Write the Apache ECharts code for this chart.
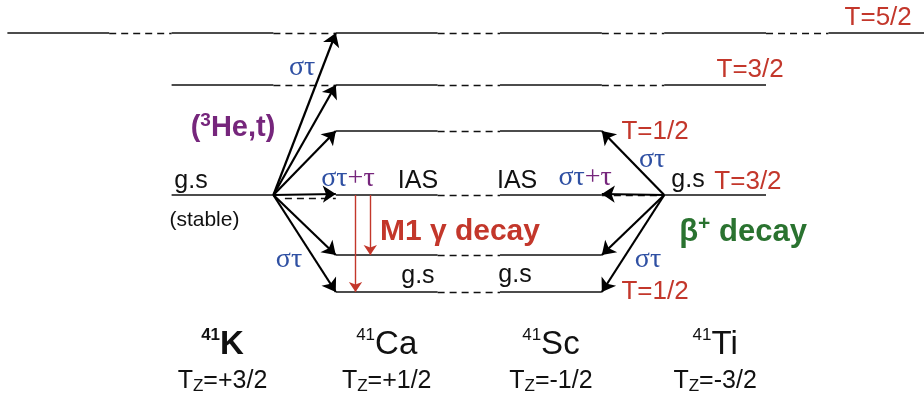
<!DOCTYPE html>
<html><head><meta charset="utf-8">
<script src="https://cdn.jsdelivr.net/npm/echarts@6/dist/echarts.min.js"></script>
<style>html,body{margin:0;padding:0;background:#fff}#c{width:924px;height:400px}</style>
</head><body><div id="c"></div>
<script>
// ---- data ----
const massNumber = '41';
const elements = ['K', 'Ca', 'Sc', 'Ti'];
const tzValues = ['+3/2', '+1/2', '-1/2', '-3/2'];
// schematic level energies (arbitrary units) and the columns (0=K..3=Ti) holding each level
const levelNames = ['T=5/2', 'T=3/2', 'T=1/2 upper', 'IAS / g.s', 'T=1/2 excited', 'g.s T=1/2'];
const levelEnergy = [25.9, 20.7, 16.1, 9.7, 3.7, 0.0];
const levelColumns = [[-1, 0, 1, 2, 3, 4], [0, 1, 2, 3], [1, 2], [0, 1, 2, 3], [1, 2], [1, 2]];
// (3He,t): 41K g.s (level 3) -> 41Ca levels
const chargeExTargets = [0, 1, 2, 3, 4, 5];
// beta+ : 41Ti g.s (level 3) -> 41Sc levels
const betaTargets = [2, 3, 4, 5];
// M1 gamma decays in 41Ca : [from, to]
const gammaDecays = [[3, 5], [3, 4]];
// text annotations: [text, x, energy, kind]
const annotations = [
  ['T=5/2', 3.993, 27.4, 'iso'],
  ['T=3/2', 3.213, 22.2, 'iso'],
  ['στ', 0.485, 22.4, 'st'],
  ['(3He,t)', 0.064, 16.4, 'he'],
  ['T=1/2', 2.634, 16.0, 'iso'],
  ['στ', 2.616, 13.2, 'st'],
  ['g.s', -0.192, 11.1, 'gs'],
  ['(stable)', -0.110, 7.2, 'small'],
  ['στ+τ', 0.764, 11.3, 'stt'],
  ['IAS', 1.190, 11.1, 'gs'],
  ['IAS', 1.794, 11.1, 'gs'],
  ['στ+τ', 2.208, 11.4, 'stt'],
  ['g.s', 2.835, 11.2, 'gs'],
  ['T=3/2', 3.200, 11.0, 'iso'],
  ['M1 γ decay', 1.446, 6.0, 'm1'],
  ['β+ decay', 3.170, 6.0, 'beta'],
  ['στ', 0.405, 3.2, 'st'],
  ['στ', 2.591, 3.2, 'st'],
  ['g.s', 1.190, 1.6, 'gs'],
  ['g.s', 1.781, 1.7, 'gs'],
  ['T=1/2', 2.634, 0.0, 'iso']
];
const nucleusLabelE = -5.3;
const tzLabelE = -8.9;

// ---- styles ----
const RED = '#c3372b', BLUE = '#2f50a3', PURPLE = '#76267c', GREEN = '#2a7330', INK = '#111111';
const SANS = '"Liberation Sans", Arial, sans-serif';
const SERIF = '"Liberation Serif", "Times New Roman", serif';
const hw = 0.31;

// ---- build marks ----
const solid = [], dashed = [];
levelColumns.forEach((cols, li) => {
  const E = levelEnergy[li];
  cols.forEach((c, k) => {
    solid.push({ coords: [[c - hw, E], [c + hw, E]] });
    if (k < cols.length - 1) {
      const n = cols[k + 1];
      if (li === 3 && c === 0) dashed.push({ coords: [[c + hw + 0.07, E - 0.3], [n - hw, E - 0.3]] });
      else dashed.push({ coords: [[c + hw, E], [n - hw, E]] });
    }
  });
});
const arrows = [];
chargeExTargets.forEach(t => arrows.push({ coords: [[0 + hw, levelEnergy[3]], [1 - hw, levelEnergy[t] + (t === 3 ? 0.1 : 0)]] }));
betaTargets.forEach(t => arrows.push({ coords: [[3 - hw, levelEnergy[3]], [2 + hw, levelEnergy[t] + (t === 3 ? 0.1 : 0)]] }));
const gammas = gammaDecays.map((g, i) => ({ coords: [[1 - hw + 0.12 + 0.09 * i, levelEnergy[g[0]]], [1 - hw + 0.12 + 0.09 * i, levelEnergy[g[1]]]] }));

const fmt = {
  iso: t => '{r|' + t + '}',
  st: t => '{s|στ}',
  stt: t => '{s|στ}{p|+τ}',
  he: t => '{h|(}{hs|3}{h|He,t)}',
  gs: t => '{k|' + t + '}',
  small: t => '{sm|' + t + '}',
  m1: t => '{m|' + t + '}',
  beta: t => '{g|β}{gsup|+}{g| decay}'
};
const rich = {
  r: { fontFamily: SANS, fontSize: 26, color: RED, lineHeight: 28 },
  s: { fontFamily: SERIF, fontSize: 28, color: BLUE, lineHeight: 28 },
  p: { fontFamily: SERIF, fontSize: 28, color: PURPLE, lineHeight: 28 },
  h: { fontFamily: SANS, fontSize: 29, fontWeight: 'bold', color: PURPLE, lineHeight: 34 },
  hs: { fontFamily: SANS, fontSize: 19, fontWeight: 'bold', color: PURPLE, lineHeight: 22, verticalAlign: 'top' },
  k: { fontFamily: SANS, fontSize: 25, color: INK, lineHeight: 28 },
  sm: { fontFamily: SANS, fontSize: 21, color: INK, lineHeight: 24 },
  m: { fontFamily: SANS, fontSize: 30, fontWeight: 'bold', color: RED, lineHeight: 34 },
  g: { fontFamily: SANS, fontSize: 31, fontWeight: 'bold', color: GREEN, lineHeight: 36 },
  gsup: { fontFamily: SANS, fontSize: 21, fontWeight: 'bold', color: GREEN, lineHeight: 24, verticalAlign: 'top' },
  ns: { fontFamily: SANS, fontSize: 17, color: INK, lineHeight: 20, verticalAlign: 'top' },
  nsb: { fontFamily: SANS, fontSize: 17, fontWeight: 'bold', color: INK, lineHeight: 20, verticalAlign: 'top' },
  n: { fontFamily: SANS, fontSize: 33, color: INK, lineHeight: 36 },
  nb: { fontFamily: SANS, fontSize: 33, fontWeight: 'bold', color: INK, lineHeight: 36 },
  t: { fontFamily: SANS, fontSize: 25, color: INK, lineHeight: 28 },
  tz: { fontFamily: SANS, fontSize: 17, color: INK, lineHeight: 19, verticalAlign: 'bottom' }
};
const textData = annotations.map(a => ({ value: [a[1], a[2]], label: { formatter: fmt[a[3]](a[0]) } }));
elements.forEach((el, i) => {
  const bold = i === 0;
  textData.push({ value: [i, nucleusLabelE], label: { formatter: (bold ? '{nsb|' : '{ns|') + massNumber + '}' + (bold ? '{nb|' : '{n|') + el + '}' } });
  textData.push({ value: [i, tzLabelE], label: { formatter: '{t|T}{tz|Z}{t|=' + tzValues[i] + '}' } });
});

const chart = echarts.init(document.getElementById('c'), null, { renderer: 'canvas' });
chart.setOption({
  animation: false,
  backgroundColor: '#fff',
  grid: { left: 0, right: 0, top: 0, bottom: 0 },
  xAxis: { type: 'value', min: -1.355, max: 4.272, show: false },
  yAxis: { type: 'value', min: -10.8, max: 29.2, show: false },
  series: [
    { type: 'lines', coordinateSystem: 'cartesian2d', silent: true, data: solid,
      lineStyle: { color: INK, width: 1.6, opacity: 1 }, symbol: 'none' },
    { type: 'lines', coordinateSystem: 'cartesian2d', silent: true, data: dashed,
      lineStyle: { color: INK, width: 1.4, type: [7, 5], opacity: 1 }, symbol: 'none' },
    { type: 'lines', coordinateSystem: 'cartesian2d', silent: true, data: arrows,
      lineStyle: { color: '#000', width: 2.2, opacity: 1 }, symbol: ['none', 'arrow'], symbolSize: [0, 13] },
    { type: 'lines', coordinateSystem: 'cartesian2d', silent: true, data: gammas,
      lineStyle: { color: RED, width: 1.4, opacity: 1 }, symbol: ['none', 'arrow'], symbolSize: [0, 10] },
    { type: 'scatter', silent: true, symbolSize: 0, data: textData,
      itemStyle: { opacity: 1 },
      label: { show: true, position: 'inside', align: 'center', verticalAlign: 'middle', opacity: 1, rich: rich } }
  ]
});
</script></body></html>
